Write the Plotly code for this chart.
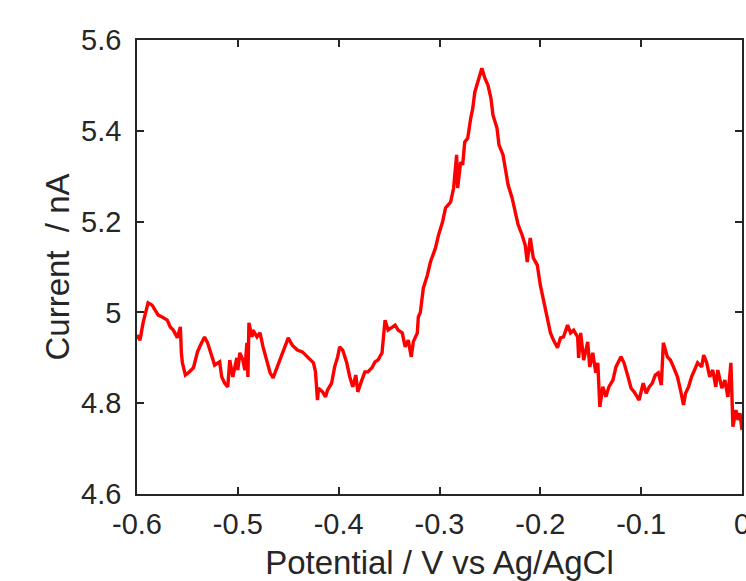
import plotly.graph_objects as go

potential = [
    -0.600, -0.597, -0.594, -0.590, -0.589, -0.585, -0.582, -0.579, -0.575, -0.570,
    -0.567, -0.564, -0.560, -0.557, -0.556, -0.555, -0.552, -0.549, -0.544, -0.540,
    -0.537, -0.533, -0.530, -0.526, -0.523, -0.518, -0.516, -0.513, -0.510, -0.508,
    -0.505, -0.501, -0.500, -0.498, -0.495, -0.493, -0.491, -0.490, -0.489, -0.486,
    -0.485, -0.481, -0.478, -0.475, -0.471, -0.468, -0.465, -0.461, -0.456, -0.453,
    -0.450, -0.446, -0.441, -0.436, -0.431, -0.428, -0.425, -0.423, -0.421, -0.420,
    -0.416, -0.413, -0.411, -0.407, -0.404, -0.401, -0.399, -0.396, -0.392, -0.389,
    -0.386, -0.383, -0.381, -0.377, -0.374, -0.371, -0.367, -0.364, -0.361, -0.357,
    -0.354, -0.351, -0.347, -0.344, -0.341, -0.337, -0.334, -0.331, -0.328, -0.326,
    -0.322, -0.321, -0.319, -0.316, -0.312, -0.309, -0.304, -0.301, -0.297, -0.294,
    -0.289, -0.286, -0.283, -0.282, -0.279, -0.277, -0.275, -0.272, -0.269, -0.267,
    -0.265, -0.262, -0.258, -0.255, -0.252, -0.249, -0.247, -0.243, -0.241, -0.237,
    -0.235, -0.232, -0.228, -0.225, -0.222, -0.218, -0.215, -0.213, -0.210, -0.207,
    -0.203, -0.200, -0.197, -0.193, -0.190, -0.187, -0.183, -0.180, -0.177, -0.173,
    -0.170, -0.167, -0.163, -0.162, -0.160, -0.157, -0.153, -0.151, -0.148, -0.145,
    -0.143, -0.141, -0.138, -0.135, -0.132, -0.128, -0.125, -0.120, -0.117, -0.113,
    -0.110, -0.107, -0.102, -0.098, -0.095, -0.092, -0.089, -0.086, -0.083, -0.080,
    -0.078, -0.074, -0.071, -0.068, -0.064, -0.061, -0.058, -0.056, -0.053, -0.050,
    -0.047, -0.044, -0.040, -0.038, -0.035, -0.032, -0.029, -0.026, -0.024, -0.020,
    -0.017, -0.014, -0.011, -0.009, -0.006, -0.004, -0.002, 0.000,
]

current = [
    4.950, 4.939, 4.977, 5.016, 5.021, 5.016, 5.005, 4.994, 4.990, 4.983,
    4.968, 4.961, 4.944, 4.968, 4.911, 4.889, 4.862, 4.867, 4.878, 4.913,
    4.928, 4.946, 4.933, 4.902, 4.884, 4.891, 4.858, 4.844, 4.836, 4.895,
    4.858, 4.900, 4.873, 4.911, 4.895, 4.873, 4.933, 4.858, 4.977, 4.946,
    4.961, 4.946, 4.955, 4.924, 4.895, 4.867, 4.856, 4.880, 4.911, 4.928,
    4.944, 4.928, 4.917, 4.913, 4.902, 4.895, 4.889, 4.869, 4.807, 4.833,
    4.825, 4.814, 4.829, 4.844, 4.880, 4.902, 4.924, 4.917, 4.889, 4.858,
    4.836, 4.862, 4.825, 4.851, 4.869, 4.869, 4.878, 4.891, 4.895, 4.911,
    4.983, 4.961, 4.968, 4.972, 4.961, 4.955, 4.924, 4.939, 4.902, 4.935,
    4.955, 4.990, 5.000, 5.054, 5.082, 5.111, 5.142, 5.170, 5.199, 5.230,
    5.243, 5.274, 5.347, 5.274, 5.331, 5.325, 5.375, 5.384, 5.428, 5.450,
    5.485, 5.507, 5.538, 5.516, 5.501, 5.472, 5.435, 5.406, 5.369, 5.347,
    5.318, 5.281, 5.252, 5.221, 5.193, 5.170, 5.148, 5.111, 5.164, 5.120,
    5.104, 5.060, 5.027, 4.990, 4.955, 4.939, 4.922, 4.944, 4.946, 4.972,
    4.955, 4.961, 4.946, 4.900, 4.955, 4.895, 4.935, 4.880, 4.911, 4.867,
    4.889, 4.792, 4.836, 4.814, 4.836, 4.851, 4.880, 4.902, 4.889, 4.858,
    4.833, 4.825, 4.807, 4.844, 4.822, 4.836, 4.844, 4.862, 4.867, 4.840,
    4.933, 4.902, 4.895, 4.880, 4.858, 4.829, 4.796, 4.822, 4.836, 4.858,
    4.873, 4.889, 4.880, 4.906, 4.889, 4.858, 4.873, 4.836, 4.873, 4.833,
    4.851, 4.814, 4.889, 4.748, 4.785, 4.763, 4.778, 4.741,
]

x_tick_vals = [-0.6, -0.5, -0.4, -0.3, -0.2, -0.1, 0]
x_tick_text = ["-0.6", "-0.5", "-0.4", "-0.3", "-0.2", "-0.1", "0"]
y_tick_vals = [4.6, 4.8, 5.0, 5.2, 5.4, 5.6]
y_tick_text = ["4.6", "4.8", "5", "5.2", "5.4", "5.6"]

x_title = "Potential / V vs Ag/AgCl"
y_title = "Current \u00a0/ nA"

axis_color = "#262626"
font_family = "Liberation Sans, Arial, Helvetica, sans-serif"

fig = go.Figure()
fig.add_trace(go.Scatter(
    x=potential, y=current, mode="lines",
    line=dict(color="#ff0000", width=3.4),
    showlegend=False, cliponaxis=True,
))

common = dict(
    showline=True, linecolor=axis_color, linewidth=1.6,
    mirror="allticks", ticks="inside", ticklen=7, tickwidth=1.6,
    tickcolor=axis_color, showgrid=False, zeroline=False,
    ticklabeloverflow="allow",
    tickfont=dict(family=font_family, size=29, color=axis_color),
)

fig.update_layout(
    width=746, height=581,
    margin=dict(l=137, r=4, t=40, b=87, autoexpand=False),
    paper_bgcolor="white", plot_bgcolor="white",
    xaxis=dict(
        range=[-0.6, 0], tickmode="array", tickvals=x_tick_vals, ticktext=x_tick_text,
        title=dict(text=x_title, font=dict(family=font_family, size=33, color=axis_color), standoff=14),
        ticklabelstandoff=3,
        **common,
    ),
    yaxis=dict(
        range=[4.6, 5.6], tickmode="array", tickvals=y_tick_vals, ticktext=y_tick_text,
        title=dict(text=y_title, font=dict(family=font_family, size=33, color=axis_color), standoff=2),
        ticklabelstandoff=8,
        **common,
    ),
)

fig.write_html(
    "out.html",
    config={"displayModeBar": False},
    post_script="document.body.style.margin='0';document.body.style.overflow='hidden';",
)
